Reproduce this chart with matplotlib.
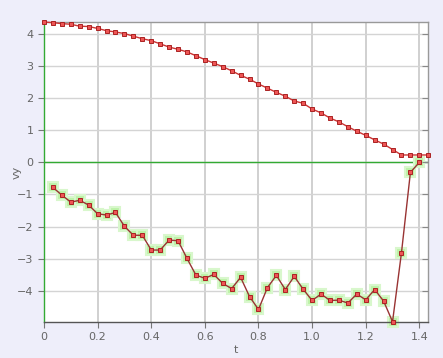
import numpy as np
import matplotlib
matplotlib.use("Agg")
import matplotlib.pyplot as plt

t_y = [i / 30 for i in range(44)]
y_vals = [4.37, 4.35, 4.32, 4.30, 4.24, 4.23, 4.17, 4.10, 4.06, 4.01,
          3.93, 3.85, 3.79, 3.69, 3.59, 3.52, 3.44, 3.32, 3.20, 3.09,
          2.98, 2.85, 2.71, 2.59, 2.44, 2.31, 2.18, 2.06, 1.91, 1.84,
          1.66, 1.54, 1.38, 1.26, 1.11, 0.97, 0.84, 0.70, 0.57, 0.40,
          0.23, 0.23, 0.23, 0.23]

t_vy = [i / 30 for i in range(1, 43)]
vy_vals = [-0.78, -1.02, -1.24, -1.18, -1.33, -1.60, -1.64, -1.56, -1.99, -2.27,
           -2.27, -2.73, -2.73, -2.42, -2.44, -2.99, -3.51, -3.61, -3.49, -3.77,
           -3.93, -3.58, -4.18, -4.58, -3.90, -3.52, -3.96, -3.55, -3.95, -4.30,
           -4.10, -4.30, -4.29, -4.38, -4.10, -4.28, -3.96, -4.32, -4.96, -2.81,
           -0.31, 0.0]

x_ticks = [0, 0.2, 0.4, 0.6, 0.8, 1.0, 1.2, 1.4]
x_labels = ["0", "0.2", "0.4", "0.6", "0.8", "1.0", "1.2", "1.4"]
y_ticks = [-4, -3, -2, -1, 0, 1, 2, 3, 4]

fig = plt.figure(figsize=(4.43, 3.58), dpi=100, facecolor="#eeeefa")
ax = fig.add_axes([0.0993, 0.1006, 0.8667, 0.8379])
ax.set_facecolor("white")

ax.set_xlim(0, 1.432)
ax.set_ylim(-4.97, 4.37)

ax.grid(True, color="#d4d4d4", linewidth=1.0)
ax.xaxis.grid(True, color="#d0d0d0", linewidth=1.4)
ax.set_axisbelow(True)
ax.axhline(0, color="#33aa33", linewidth=1.0, zorder=1.5)

# top series
ax.plot(t_y, y_vals, color="#cc3333", linewidth=1.0, zorder=3,
        marker="s", markersize=3.5, markerfacecolor="#ee5555",
        markeredgecolor="#aa2222", markeredgewidth=0.7, clip_on=False)

# bottom series with green glow
ax.plot(t_vy, vy_vals, linestyle="none", marker="s", markersize=6.5,
        markerfacecolor="#bdf2a8", markeredgecolor="#d8f7cc",
        markeredgewidth=1.5, zorder=2, clip_on=False)
ax.plot(t_vy, vy_vals, color="#993333", linewidth=1.0, zorder=3,
        marker="s", markersize=3.5, markerfacecolor="#ee5555",
        markeredgecolor="#aa2222", markeredgewidth=0.7, clip_on=False)

ax.set_xticks(x_ticks)
ax.set_xticklabels(x_labels)
ax.set_yticks(y_ticks)

for s in ["top", "right"]:
    ax.spines[s].set_color("#999999")
ax.spines["left"].set_color("#33aa33")
ax.spines["bottom"].set_color("#555555")
for s in ax.spines.values():
    s.set_linewidth(1.0)

ax.tick_params(axis="both", labelsize=8, labelcolor="#666666", color="#777777",
               length=4, width=0.8, direction="out")

ax2 = ax.twinx()
ax2.set_ylim(ax.get_ylim())
ax2.set_yticks(y_ticks)
ax2.tick_params(axis="y", direction="in", length=4, width=0.8,
                color="#888888", labelright=False)
for s in ax2.spines.values():
    s.set_visible(False)

ax.set_xlabel("t", fontsize=8, color="#666666", labelpad=2)
ax.set_ylabel("vy", fontsize=8, color="#666666")
ax.yaxis.set_label_coords(-0.057, 0.5)

fig.savefig("out.png", dpi=100, facecolor=fig.get_facecolor())
